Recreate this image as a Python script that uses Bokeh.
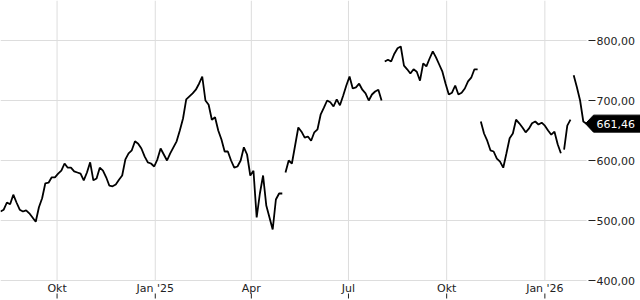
import pandas as pd
from bokeh.plotting import figure
from bokeh.models import Range1d
from bokeh.core.properties import value
from bokeh.embed import file_html
from bokeh.resources import INLINE

# ---- data ----
start_date = "2024-08-09"
step_days = 3
price = [
    515, 518, 530, 527, 543, 530, 518, 515, 517, 512,
    505, 498, 522, 537, 562, 563, 572, 572, 578, 583,
    595, 588, 588, 582, 580, 578, 567, 580, 597, 567,
    570, 588, 583, 572, 558, 557, 560, 568, 575, 602,
    612, 617, 632, 628, 620, 607, 597, 595, 590, 602,
    620, 610, 600, 612, 622, 632, 650, 670, 702, 707,
    712, 718, 728, 740, 700, 693, 668, 672, 650, 635,
    615, 615, 600, 588, 590, 600, 622, 610, 575, 583,
    505, 545, 575, 525, 505, 485, 535, 545, 545, 580,
    600, 595, 625, 655, 648, 638, 640, 633, 647, 652,
    677, 688, 700, 697, 690, 702, 692, 708, 725, 740,
    720, 722, 728, 718, 712, 700, 710, 715, 718, 700,
    765, 768, 765, 778, 787, 790, 758, 752, 745, 752,
    748, 733, 762, 757, 770, 782, 772, 760, 748, 728,
    710, 713, 725, 710, 713, 720, 732, 738, 752, 752,
    665, 645, 633, 617, 615, 603, 598, 588, 612, 637,
    645, 668, 662, 655, 647, 653, 662, 665, 660, 663,
    658, 650, 643, 648, 627, 612, 618, 658, 668, 742,
    722, 700, 665, 661.46,
]
gap_after = [88, 119, 149, 175, 178]   # series breaks after these indices

x_tick_dates = ["2024-10-01", "2025-01-01", "2025-04-01", "2025-07-01", "2025-10-01", "2026-01-01"]
x_tick_labels = ["Okt", "Jan '25", "Apr", "Jul", "Okt", "Jan '26"]
y_ticks = [400, 500, 600, 700, 800]
y_min, y_max = 400, 866.67

# ---- layout constants (pixels) ----
W, H = 640, 300
PLOT_H = 280          # height of the price area
DATA_W = 586          # pixel where the last observation sits

FONT = "DejaVu Sans"
TXT = "#222222"
GRID = "#dddddd"

def fmt(v):
    return f"{v:.2f}".replace(".", ",")

# ---- build ----
dates = pd.date_range(start_date, periods=len(price), freq=f"{step_days}D")
ms = [float(v // 10**6) for v in dates.asi8]
x_tick_ms = [float(pd.Timestamp(d).value // 10**6) for d in x_tick_dates]
x0, xl = ms[0], ms[-1]
dx = (xl - x0) / DATA_W                  # data units per pixel (x)
dy = (y_max - y_min) / PLOT_H            # data units per pixel (y)
x_end = x0 + dx * W
y_bottom = y_min - dy * (H - PLOT_H)

p = figure(width=W, height=H, x_axis_location=None, y_axis_location=None,
           output_backend="svg", toolbar_location=None,
           x_range=Range1d(x0, x_end), y_range=Range1d(y_bottom, y_max),
           min_border=0)
p.outline_line_color = None
p.background_fill_color = "white"
p.border_fill_color = "white"
p.grid.visible = False

nx, ny = len(x_tick_ms), len(y_ticks)

# grid lines
p.segment(x0=x_tick_ms, y0=[y_min] * nx, x1=x_tick_ms, y1=[y_max] * nx,
          line_color=GRID, line_width=1, level="underlay")
p.segment(x0=[x0] * ny, y0=y_ticks, x1=[xl] * ny, y1=y_ticks,
          line_color=GRID, line_width=1, level="underlay")

# price line, broken at the gaps
prev = 0
for g in gap_after + [len(price) - 1]:
    p.line(ms[prev:g + 1], price[prev:g + 1], line_color="black", line_width=1.8)
    prev = g + 1

# time scale: labels with small tick marks beneath them
p.text(x=x_tick_ms, y=[y_min - 1 * dy] * nx, text=x_tick_labels,
       text_font=value(FONT), text_font_size="11px", text_color=TXT,
       text_baseline="top", text_align="center")
p.segment(x0=x_tick_ms, y0=[y_min - 13 * dy] * nx, x1=x_tick_ms, y1=[y_min - 18 * dy] * nx,
          line_color=TXT, line_width=1)

# value scale on the right
p.segment(x0=[xl + 2 * dx] * ny, y0=y_ticks, x1=[xl + 9 * dx] * ny, y1=y_ticks,
          line_color=TXT, line_width=1)
p.text(x=[xl] * ny, y=y_ticks, text=[fmt(v) for v in y_ticks], x_offset=10,
       text_font=value(FONT), text_font_size="11px", text_color=TXT,
       text_baseline="middle", text_align="left")

# last-value badge
last = price[-1]
p.patch(x=[xl - 1 * dx, xl + 7 * dx, xl + 60 * dx, xl + 60 * dx, xl + 7 * dx],
        y=[last, last + 8.5 * dy, last + 8.5 * dy, last - 8.5 * dy, last - 8.5 * dy],
        fill_color="black", line_color="black")
p.text(x=[xl], y=[last], text=[fmt(last)], x_offset=10,
       text_font=value(FONT), text_font_size="11px", text_color="white",
       text_baseline="middle", text_align="left")

open("out.html", "w").write(file_html(p, INLINE))
